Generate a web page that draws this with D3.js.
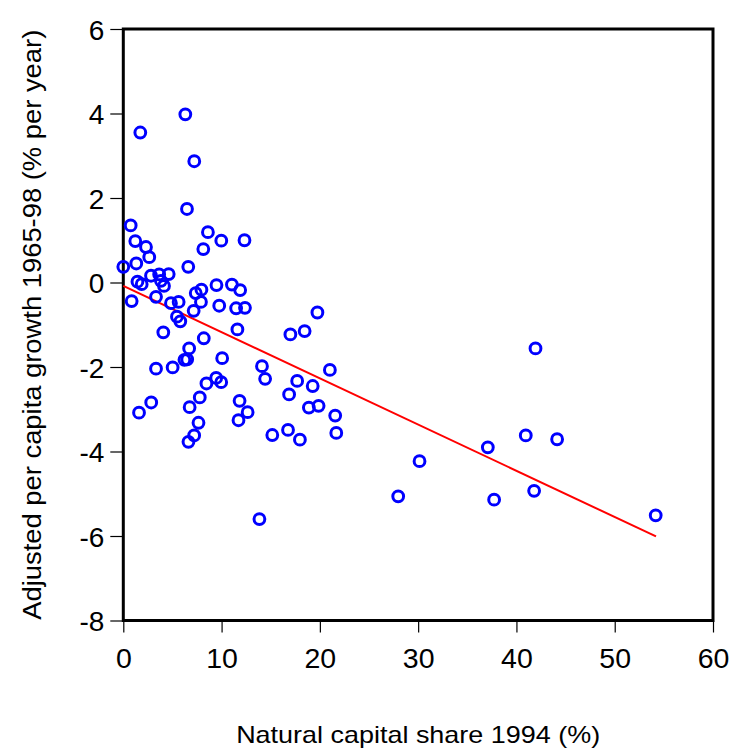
<!DOCTYPE html>
<html>
<head>
<meta charset="utf-8">
<script src="https://cdn.jsdelivr.net/npm/d3@7"></script>
<style>
  body { margin: 0; background: #fff; }
  svg { display: block; font-family: "Liberation Sans", Arial, sans-serif; }
</style>
</head>
<body>
<div class="chart"></div>
<script>
// natural capital share 1994 (%) vs adjusted growth 1965-98 (% per year)
var shareX = [6.31, 1.73, 7.22, 6.48, 0.75, 1.22, 2.31, 2.64, 8.14, 8.61,
              9.97, 12.33, 0.0, 1.32, 6.61, 1.44, 1.87, 2.82, 3.65, 4.62,
              3.83, 4.14, 3.33, 0.85, 4.85, 5.63, 5.46, 5.80, 4.07, 7.16,
              7.37, 7.95, 7.90, 9.48, 11.05, 11.89, 9.76, 11.48, 12.38, 8.19,
              11.61, 6.70, 6.22, 6.50, 10.06, 3.33, 5.02, 14.11, 14.43, 17.00,
              18.45, 19.75, 21.02, 8.46, 9.45, 9.96, 16.87, 17.69, 19.27, 2.84,
              1.60, 7.78, 6.75, 11.83, 12.65, 11.72, 7.65, 18.88, 19.87, 21.56,
              21.67, 15.16, 16.76, 17.97, 7.21, 6.63, 13.85, 41.94, 30.14, 27.97,
              37.09, 40.95, 44.14, 37.73, 41.80, 54.17];
var growthY = [3.98, 3.55, 2.87, 1.74, 1.35, 0.98, 0.84, 0.60, 0.79, 1.19,
               0.99, 1.00, 0.37, 0.45, 0.37, 0.02, -0.04, 0.16, 0.19, 0.20,
               0.04, -0.08, -0.34, -0.44, -0.49, -0.46, -0.81, -0.92, -1.18, -0.67,
               -0.25, -0.17, -0.46, -0.06, -0.05, -0.18, -0.55, -0.61, -0.60, -1.32,
               -1.11, -1.56, -1.83, -1.82, -1.79, -2.04, -2.01, -1.98, -2.28, -1.23,
               -1.15, -0.71, -2.07, -2.39, -2.26, -2.36, -2.65, -2.33, -2.45, -2.84,
               -3.08, -2.72, -2.95, -2.80, -3.07, -3.26, -3.32, -2.96, -2.92, -3.15,
               -3.56, -3.61, -3.49, -3.72, -3.62, -3.77, -5.60, -1.56, -4.23, -5.06,
               -3.90, -3.62, -3.71, -5.14, -4.93, -5.51];

// fitted line end points
var fitX = [0, 54.2];
var fitY = [-0.08, -6.01];

var xTicks = [0, 10, 20, 30, 40, 50, 60];
var yTicks = [-8, -6, -4, -2, 0, 2, 4, 6];

var W = 735, H = 756;
var pLeft = 123.3, pRight = 713, pTop = 29, pBottom = 620.5;

var svg = d3.select(".chart").append("svg")
    .attr("width", W)
    .attr("height", H);

var x = d3.scaleLinear().domain([0, 60]).range([pLeft, pRight]);
var y = d3.scaleLinear().domain([-8, 6]).range([pBottom, pTop]);

// plain hyphen for negatives, like the original
var plain = function(d) { return String(d); };

// axes
var xAxis = svg.append("g")
    .attr("transform", "translate(0," + pBottom + ")")
    .call(d3.axisBottom(x).tickValues(xTicks).tickFormat(plain).tickSize(12).tickPadding(8));
xAxis.select(".domain").remove();
xAxis.selectAll("line").attr("stroke", "#000").attr("stroke-width", 1.2);
xAxis.selectAll("text")
    .attr("font-size", 28.5)
    .attr("font-family", "Liberation Sans, Arial, sans-serif")
    .attr("fill", "#000")
    .attr("y", 47.5)
    .attr("dy", 0);

var yAxis = svg.append("g")
    .attr("transform", "translate(" + pLeft + ",0)")
    .call(d3.axisLeft(y).tickValues(yTicks).tickFormat(plain).tickSize(13).tickPadding(6));
yAxis.select(".domain").remove();
yAxis.selectAll("line").attr("stroke", "#000").attr("stroke-width", 1.2);
yAxis.selectAll("text")
    .attr("font-size", 28)
    .attr("font-family", "Liberation Sans, Arial, sans-serif")
    .attr("fill", "#000")
    .attr("x", -19)
    .attr("dy", "0.36em");

// frame
svg.append("rect")
    .attr("x", pLeft)
    .attr("y", pTop)
    .attr("width", pRight - pLeft)
    .attr("height", pBottom - pTop)
    .attr("fill", "none")
    .attr("stroke", "#000")
    .attr("stroke-width", 3);

// regression line
svg.append("line")
    .attr("x1", x(fitX[0]))
    .attr("y1", y(fitY[0]))
    .attr("x2", x(fitX[1]))
    .attr("y2", y(fitY[1]))
    .attr("stroke", "#ff0000")
    .attr("stroke-width", 2);

// points
svg.append("g")
  .selectAll("circle")
  .data(shareX)
  .enter().append("circle")
    .attr("cx", function(d) { return x(d); })
    .attr("cy", function(d, i) { return y(growthY[i]); })
    .attr("r", 5.4)
    .attr("fill", "none")
    .attr("stroke", "#0000ff")
    .attr("stroke-width", 3);

// titles
svg.append("text")
    .attr("x", (pLeft + pRight) / 2)
    .attr("y", 743)
    .attr("text-anchor", "middle")
    .attr("font-size", 24)
    .attr("textLength", 364)
    .attr("lengthAdjust", "spacingAndGlyphs")
    .text("Natural capital share 1994 (%)");

svg.append("text")
    .attr("transform", "translate(41," + (pTop + pBottom) / 2 + ") rotate(-90)")
    .attr("text-anchor", "middle")
    .attr("font-size", 25)
    .attr("textLength", 590)
    .attr("lengthAdjust", "spacingAndGlyphs")
    .text("Adjusted per capita growth 1965-98 (% per year)");
</script>
</body>
</html>
